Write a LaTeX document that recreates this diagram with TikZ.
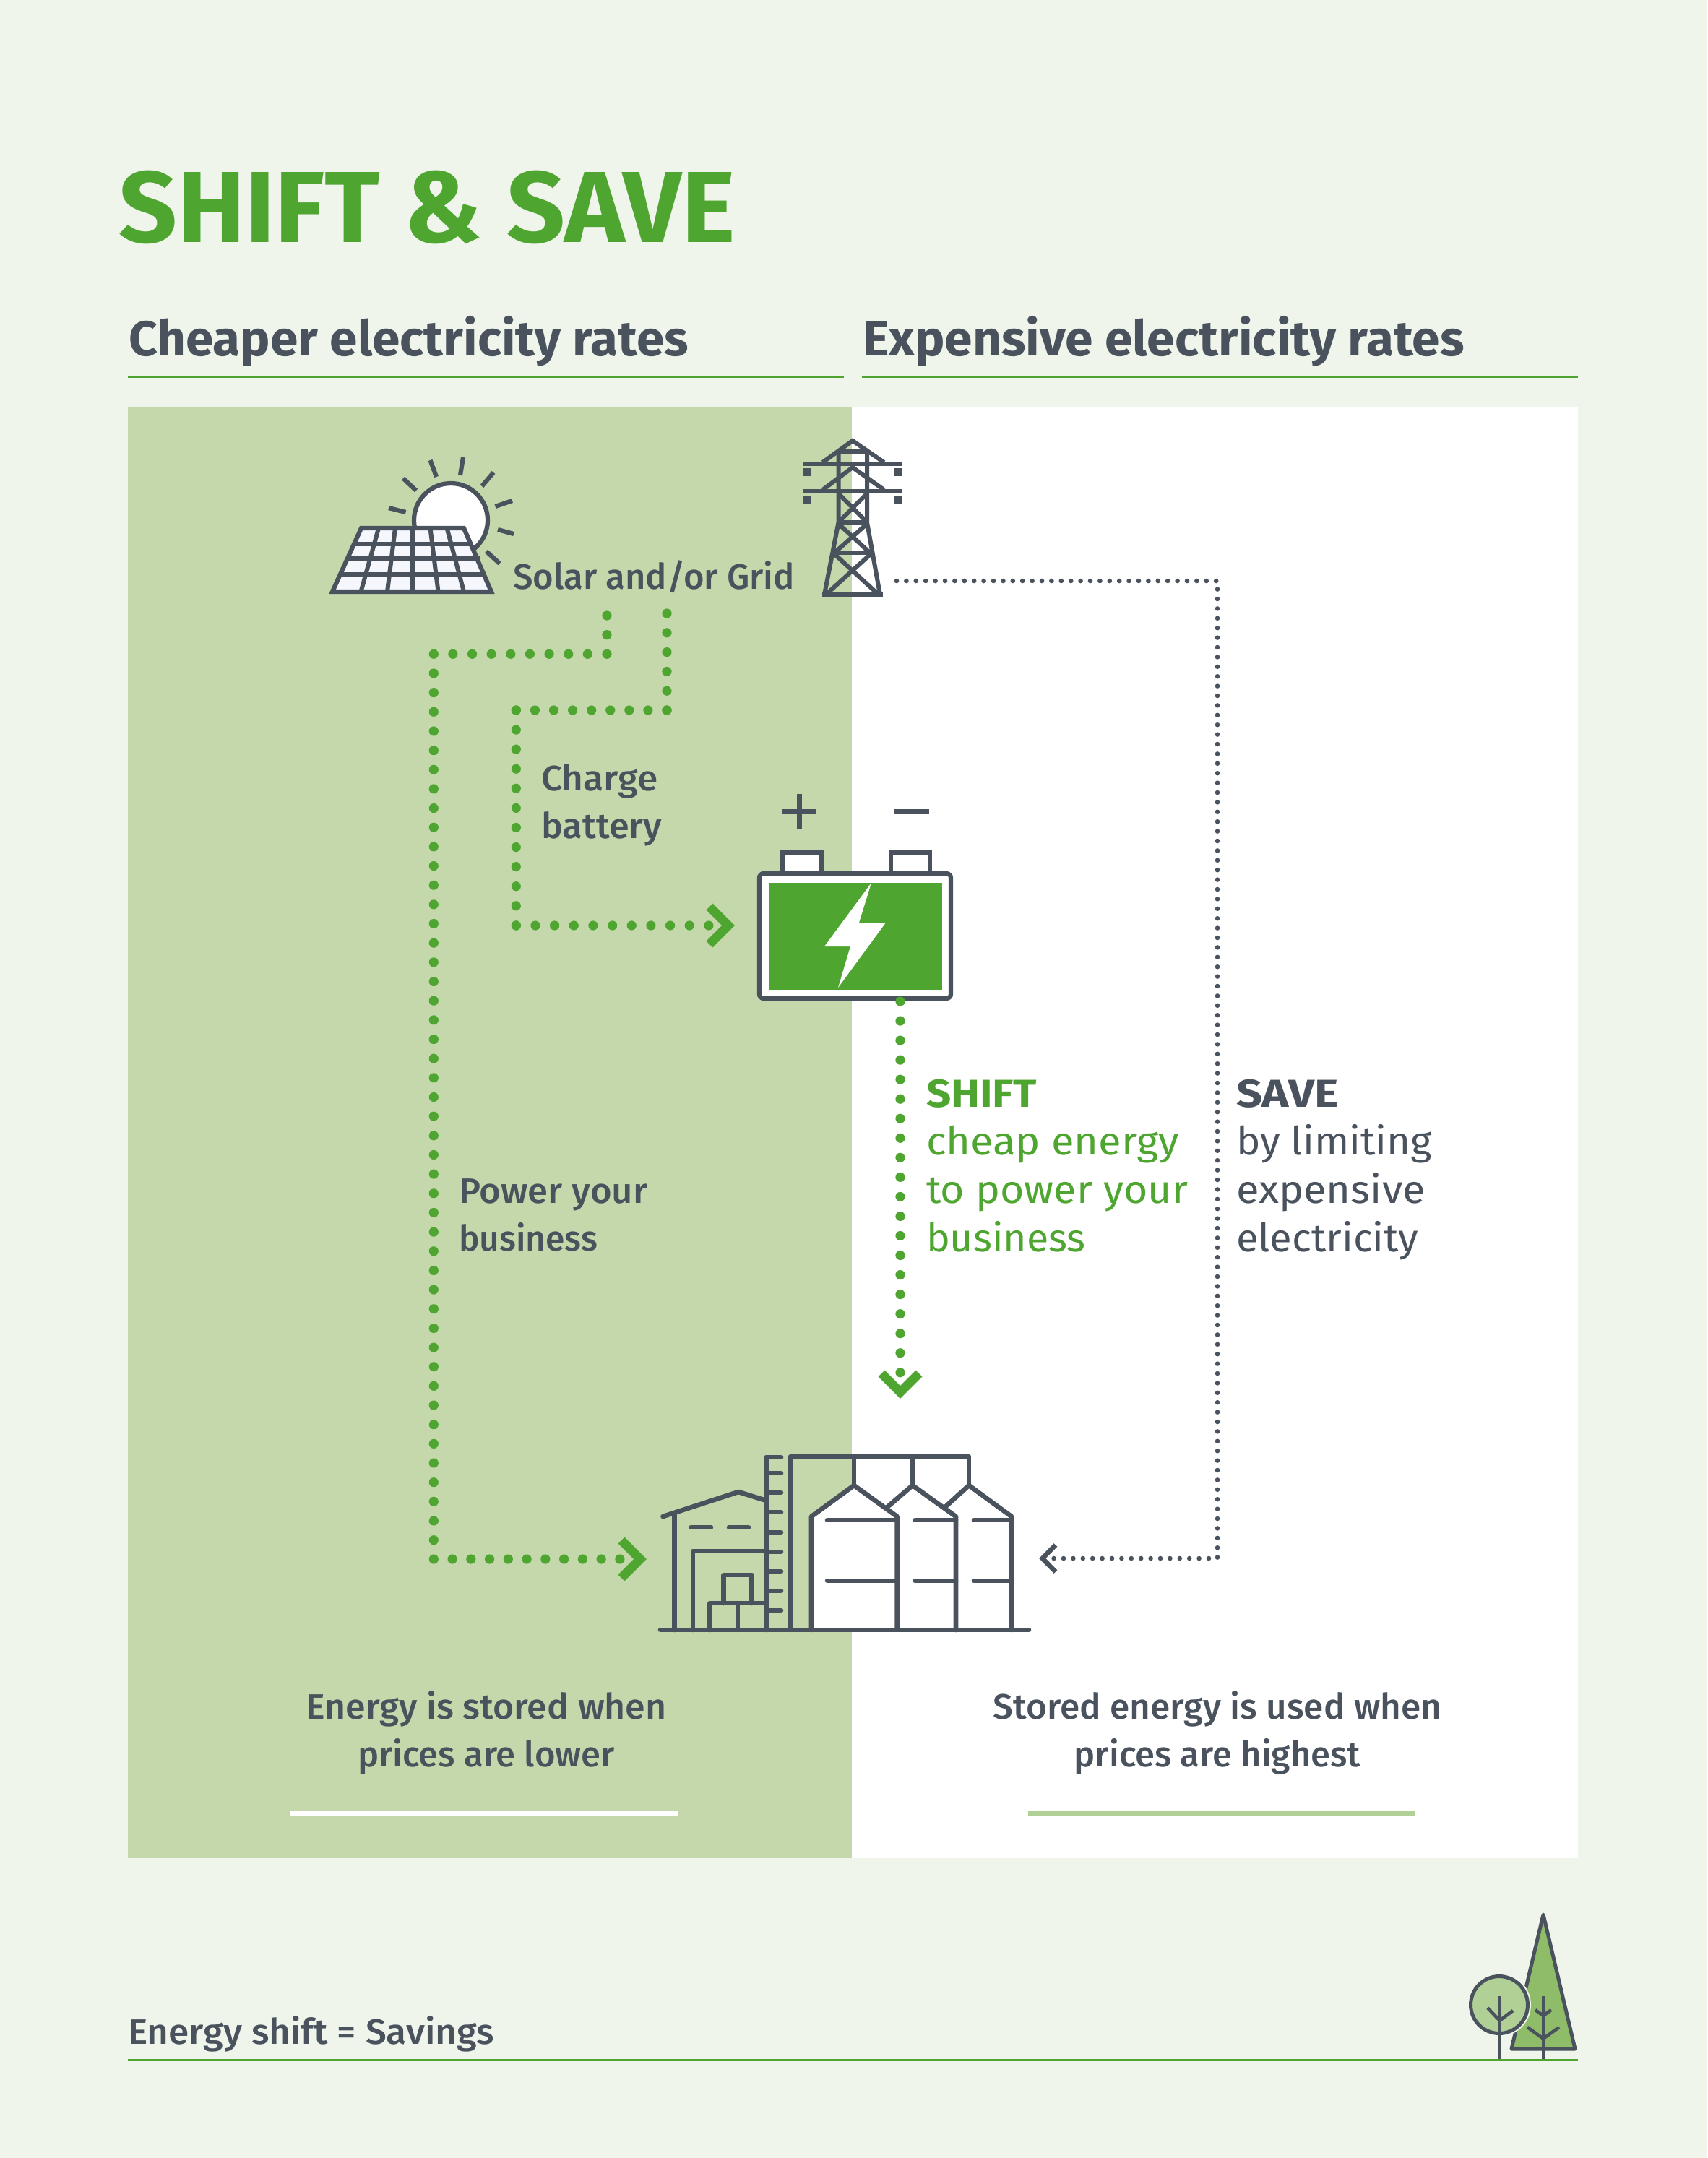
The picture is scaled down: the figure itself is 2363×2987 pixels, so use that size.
\documentclass[tikz,border=0pt]{standalone}
\usepackage{fontspec}
\setmainfont{Fira Sans}[UprightFont=* Medium,BoldFont=* Bold]
\newfontfamily\regfont{Fira Sans}
\definecolor{pagebg}{HTML}{F0F5EC}
\definecolor{panelgreen}{HTML}{C4D8AB}
\definecolor{ink}{HTML}{4A535D}
\definecolor{brand}{HTML}{4EA52F}
\definecolor{lightleaf}{HTML}{B0D095}
\definecolor{darkleaf}{HTML}{8FBC69}
\definecolor{cellwhite}{HTML}{F5F7FC}
\newcommand{\pxfont}[1]{\fontsize{#1}{#1}\selectfont}
\newcommand{\sx}[2]{\scalebox{#1}[1]{#2}}
\tikzset{
  x=0.5pt,y=-0.5pt,
  lbl/.style={anchor=base west,inner sep=0pt,outer sep=0pt,text=ink},
  lblc/.style={anchor=base,inner sep=0pt,outer sep=0pt,text=ink},
  smalltxt/.style={font=\pxfont{24.5}},
  bigtxt/.style={font=\regfont\pxfont{27}},
  headtxt/.style={font=\bfseries\pxfont{34}},
  rule/.style={draw=brand,line width=1.5pt},
  icon/.style={draw=ink,line width=3.1pt,line join=miter},
  iconr/.style={draw=ink,line width=3.3pt,line cap=round,line join=round},
  gdots/.style={draw=brand,line width=6.6pt,line cap=round,dash pattern=on 0pt off #1},
  gydots/.style={draw=ink,line width=3.3pt,line cap=round,dash pattern=on 0pt off 6.7pt},
  gchev/.style={draw=brand,line width=6.25pt,line cap=butt,line join=miter},
  gychev/.style={draw=ink,line width=3.3pt,line cap=butt,line join=miter},
}
\begin{document}
\begin{tikzpicture}
\useasboundingbox (0,0) rectangle (2363,2987);
\fill[pagebg] (0,0) rectangle (2363,2987);
% panels
\fill[panelgreen] (177,564) rectangle (1179,2572);
\fill[white] (1179,564) rectangle (2184,2572);
% title and rules
\node[lbl,text=brand,font=\bfseries\pxfont{70}] (title) at (164,335) {\sx{1.012}{SHIFT \& SAVE}};
\node[lbl,headtxt] (headL) at (178,492) {\sx{1.02}{Cheaper electricity rates}};
\node[lbl,headtxt] (headR) at (1194,492) {\sx{1.022}{Expensive electricity rates}};
\coordinate (ruleLa) at (177,521); \coordinate (ruleLb) at (1168,521);
\coordinate (ruleRa) at (1193,521); \coordinate (ruleRb) at (2184,521);
\draw[rule] (ruleLa) -- (ruleLb);
\draw[rule] (ruleRa) -- (ruleRb);
% sun
\fill[white] (624,720) circle (51);
\draw[icon] (624,720) circle (51);
\foreach \a/\b/\c/\d in {595.5/637/604/660,641/633/637/658,683/654/667/673,709/693/685.5/701,711/739/689/733,691.5/780/673/763,576/679/558/662,561.5/709/538/703}
  \draw[icon] (\a,\b) -- (\c,\d);
% solar panel
\fill[cellwhite] (500,728) -- (642,728) -- (683,820) -- (457,820) -- cycle;
\draw[icon] (500,731) -- (642,731) -- (680,819) -- (460,819) -- cycle;
\foreach \t/\b in {524/499.5,547/536,571/571,595.5/606.5,618.6/642}
  \draw[icon,line width=3pt] (\t,731) -- (\b,819);
\draw[icon,line width=3pt] (490,753) -- (655,753);
\draw[icon,line width=3pt] (482,773) -- (664,773);
\draw[icon,line width=3pt] (472,795) -- (673,795);
% pylon
\begin{scope}[icon,line width=3pt]
\draw (1138.6,640) -- (1180,610) -- (1223.6,640);
\draw (1138.6,678) -- (1180,647) -- (1223.6,678);
\draw (1112,642) -- (1248,642);
\draw (1112,680) -- (1248,680);
\draw (1160.5,625) -- (1160.5,723) -- (1141,823);
\draw (1200,625) -- (1200,723) -- (1218,823);
\draw (1160.5,625) -- (1200,625);
\draw (1160.5,723) -- (1200,723);
\draw (1155,765) -- (1205,765);
\draw (1138,823) -- (1222,823);
\draw (1160.5,683) -- (1200,723); \draw (1200,683) -- (1160.5,723);
\draw (1160.5,725) -- (1204,765); \draw (1200,725) -- (1155,765);
\draw (1155,767) -- (1216,823); \draw (1205,767) -- (1143,823);
\end{scope}
\foreach \x in {1112,1238} \foreach \y in {648,686}
  \fill[ink] (\x,\y) rectangle ++(10,11);
% labels
\node[lbl,smalltxt] (solar) at (710,815) {Solar and/or Grid};
\node[lbl,smalltxt] (charge) at (749,1094) {\sx{1.05}{Charge}};
\node[lbl,smalltxt] (chargeb) at (749,1160) {\sx{1.03}{battery}};
\node[lbl,smalltxt] (power) at (635,1665) {\sx{1.04}{Power your}};
\node[lbl,smalltxt] (powerb) at (635,1731) {\sx{0.98}{business}};
\node[lbl,bigtxt,text=brand,font=\bfseries\pxfont{27}] (shift) at (1282,1532) {\sx{1.11}{SHIFT}};
\node[lbl,bigtxt,text=brand] (shift1) at (1282,1598) {\sx{1.07}{cheap energy}};
\node[lbl,bigtxt,text=brand] (shift2) at (1282,1665) {\sx{1.06}{to power your}};
\node[lbl,bigtxt,text=brand] (shift3) at (1282,1732) {\sx{1.027}{business}};
\node[lbl,bigtxt,font=\bfseries\pxfont{27}] (save) at (1711,1532) {\sx{1.17}{SAVE}};
\node[lbl,bigtxt] (save1) at (1711,1598) {\sx{1.044}{by limiting}};
\node[lbl,bigtxt] (save2) at (1711,1665) {\sx{1.07}{expensive}};
\node[lbl,bigtxt] (save3) at (1711,1732) {\sx{1.04}{electricity}};
\node[lblc,smalltxt] (storeA) at (673,2379) {\sx{1.023}{Energy is stored when}};
\node[lblc,smalltxt] (storeB) at (673,2445) {prices are lower};
\node[lblc,smalltxt] (useA) at (1685,2379) {\sx{1.012}{Stored energy is used when}};
\node[lblc,smalltxt] (useB) at (1685,2445) {prices are highest};
\node[lbl,smalltxt] (foot) at (177,2829) {\sx{1.05}{Energy shift = Savings}};
% short rules
\coordinate (ulLa) at (402,2510); \coordinate (ulLb) at (938,2510);
\coordinate (ulRa) at (1423,2510); \coordinate (ulRb) at (1959,2510);
\draw[white,line width=3pt] (ulLa) -- (ulLb);
\draw[lightleaf,line width=3pt] (ulRa) -- (ulRb);
\coordinate (foota) at (177,2851); \coordinate (footb) at (2184,2851);
% battery
\coordinate (batNW) at (1051,1209); \coordinate (batSE) at (1316,1382);
\fill[white] (1083,1180) rectangle (1137,1212);
\fill[white] (1233,1180) rectangle (1287,1212);
\draw[icon] (1083,1209) -- (1083,1180) -- (1137,1180) -- (1137,1209);
\draw[icon] (1233,1209) -- (1233,1180) -- (1287,1180) -- (1287,1209);
\draw[icon,fill=white,rounded corners=3pt] (batNW) rectangle (batSE);
\fill[brand] (1065,1222) rectangle (1304,1370);
\fill[white] (1206,1222) -- (1189,1277) -- (1226,1277) -- (1160,1367) -- (1177,1310) -- (1141,1310) -- cycle;
\draw[ink,line width=3.5pt] (1082,1123) -- (1130,1123) (1106,1099) -- (1106,1147);
\draw[ink,line width=3.5pt] (1237,1123) -- (1286,1123);
% factory
\fill[white] (1123,2099) -- (1182,2058) -- (1241.6,2099) -- (1241.6,2256) -- (1123,2256) -- cycle;
\fill[white] (1182,2016) rectangle (1341,2060);
\begin{scope}[iconr]
\draw (914,2256) -- (1424,2256);
\draw (1081,2017) -- (1060.6,2017) -- (1060.6,2256);
\foreach \y in {2039,2066,2093,2121,2148,2175,2202,2229} \draw (1060.6,\y) -- (1081,\y);
\draw (1094,2256) -- (1094,2016) -- (1341,2016) -- (1341,2056);
\draw (1182,2016) -- (1182,2056);
\draw (1263,2016) -- (1263,2056);
\draw (1123,2256) -- (1123,2099) -- (1182,2056) -- (1241.6,2099) -- (1241.6,2256);
\draw (1228,2086) -- (1263,2056) -- (1323,2099) -- (1323,2256);
\draw (1308,2086) -- (1341,2056) -- (1400,2099) -- (1400,2256);
\foreach \y in {2104,2188} {
  \draw (1145,\y) -- (1241.6,\y);
  \draw (1266.5,\y) -- (1323,\y);
  \draw (1348,\y) -- (1400,\y);
}
\draw (917.5,2099) -- (1022,2065) -- (1060.6,2077);
\draw (933.6,2097) -- (933.6,2256);
\draw (956.5,2114) -- (984,2114);
\draw (1009,2114) -- (1036,2114);
\draw (959,2256) -- (959,2147) -- (1060.6,2147);
\draw (982.6,2256) -- (982.6,2219) -- (1060.6,2219);
\draw (1021,2219) -- (1021,2256);
\draw (1001.7,2219) -- (1001.7,2180) -- (1040.7,2180) -- (1040.7,2219);
\end{scope}
% connectors
\coordinate (p1a) at (840,852); \coordinate (p1b) at (840,905.3); \coordinate (p1c) at (600.3,905.3);
\coordinate (p1d) at (600.3,2158); \coordinate (p1e) at (858,2158);
\coordinate (p2a) at (923,849); \coordinate (p2b) at (923,983); \coordinate (p2c) at (714.3,983);
\coordinate (p2d) at (714.3,1281); \coordinate (p2e) at (981,1281);
\coordinate (p3a) at (1246,1386); \coordinate (p3b) at (1246,1900);
\coordinate (p4a) at (1241,804); \coordinate (p4b) at (1685,804); \coordinate (p4c) at (1685,2157); \coordinate (p4d) at (1456,2157);
\draw[gdots=13.33pt] (p1a) -- (p1b);
\draw[gdots=13.32pt] (p1b) -- (p1c);
\draw[gdots=13.33pt] (p1c) -- (p1d);
\draw[gdots=12.88pt] (p1d) -- (p1e);
\draw[gdots=13.4pt] (p2a) -- (p2b);
\draw[gdots=13.04pt] (p2b) -- (p2c);
\draw[gdots=13.54pt] (p2c) -- (p2d);
\draw[gdots=13.33pt] (p2d) -- (p2e);
\draw[gdots=13.52pt] (p3a) -- (p3b);
\draw[gydots] (p4a) -- (p4b) -- (p4c) -- (p4d);
% arrowheads
\coordinate (chA) at (886,2158); \coordinate (chB) at (1008,1281); \coordinate (chC) at (1246,1927); \coordinate (chD) at (1442.7,2157);
\draw[gchev] (860,2132) -- (chA) -- (860,2184);
\draw[gchev] (982,1255) -- (chB) -- (982,1307);
\draw[gchev] (1220,1901) -- (chC) -- (1272,1901);
\draw[gychev] (1461,2138.5) -- (chD) -- (1461,2175.5);
% trees
\fill[darkleaf] (2136,2650) -- (2180,2836) -- (2092,2836) -- cycle;
\draw[icon,line width=2.5pt,line join=round] (2136,2650) -- (2180,2836) -- (2092,2836) -- cycle;
\fill[pagebg] (2075,2775) circle (44);
\draw[icon,line width=2.5pt,fill=lightleaf] (2075,2775) circle (39.5);
\draw[icon,line width=2.3pt] (2075.7,2762.7) -- (2075.7,2850);
\draw[icon,line width=2.3pt] (2059,2779.3) -- (2075.7,2796.7) -- (2094,2783);
\draw[icon,line width=2.3pt] (2136,2762.7) -- (2136,2850);
\draw[icon,line width=2.3pt] (2125,2782) -- (2136,2790) -- (2147,2782);
\draw[icon,line width=2.3pt] (2114,2806) -- (2136,2821.7) -- (2158,2806);
\draw[rule] (foota) -- (footb);
\end{tikzpicture}
\end{document}
